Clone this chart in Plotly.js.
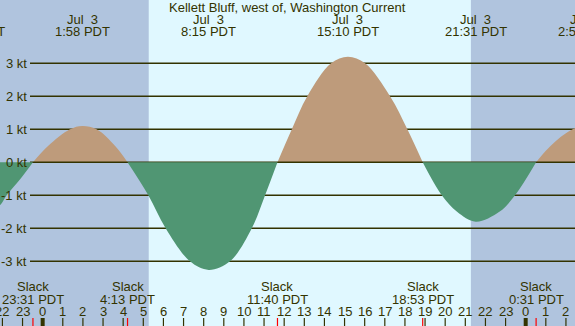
<!DOCTYPE html>
<html><head><meta charset="utf-8">
<script src="https://cdn.plot.ly/plotly-3.0.1.min.js"></script>
<style>html,body{margin:0;padding:0;background:#b0c4de;}#chart{width:575px;height:326px;}</style>
</head><body><div id="chart"></div>
<script>
// Hours relative to Jul 3 00:00 PDT
const times  = [-3.4, -2.8, -2.12, -1.79, -1.1, -0.483, 0.28, 1.36, 1.967, 2.68, 3.59, 4.217,
                5.25, 6.11, 7.32, 8.25, 9.31, 10.39, 11.05, 11.667,
                12.38, 13.15, 14.33, 15.167, 16.02, 17.26, 18.12, 18.883,
                19.83, 20.59, 21.517, 22.69, 23.47, 24.517,
                25.0, 25.5, 26.0, 26.45, 26.95];
const speeds = [-1.65, -1.55, -1.3, -1.0, -0.5, 0, 0.5, 1.0, 1.1, 1.0, 0.5, 0,
                -1, -2, -3, -3.26, -3, -2, -1, 0,
                1, 2, 3, 3.2, 3, 2, 1, 0,
                -1, -1.5, -1.8, -1.5, -1, 0,
                0.35, 0.65, 0.88, 1.03, 1.1];

const extremeTimes  = [-3.4, 1.967, 8.25, 15.167, 21.517, 26.95];
const extremeDates  = ['Jul  2', 'Jul  3', 'Jul  3', 'Jul  3', 'Jul  3', 'Jul  4'];
const extremeLabels = ['20:36 PDT', '1:58 PDT', '8:15 PDT', '15:10 PDT', '21:31 PDT', '2:57 PDT'];
const slackTimes  = [-0.483, 4.217, 11.667, 18.883, 24.517];
const slackLabels = ['23:31 PDT', '4:13 PDT', '11:40 PDT', '18:53 PDT', '0:31 PDT'];
const levels = [-3, -2, -1, 0, 1, 2, 3];
const levelLabels = ['-3 kt', '-2 kt', '-1 kt', '0 kt', '1 kt', '2 kt', '3 kt'];
const hourTicks = [];
for (let h = -2; h <= 26; h++) hourTicks.push(h);
const sunrise = 5.27, sunset = 21.28;
const title = 'Kellett Bluff, west of, Washington Current';

const W = 575, H = 326;
const xr = [-2.12, 26.45];
const yr = [-4.96, 4.92];
const ink = '#333300';
const FONT = 'Liberation Sans, Arial, sans-serif';
const xp = h => (h - xr[0]) / (xr[1] - xr[0]);   // hour -> paper fraction
const pyPx = px => 1 - px / H;                    // pixel row -> paper fraction

// split into lobes at slack (zero) points
const lobes = [];
let cur = {x: [], y: []};
for (let i = 0; i < times.length; i++) {
  cur.x.push(times[i]); cur.y.push(speeds[i]);
  if (speeds[i] === 0 && cur.x.length > 1) {
    lobes.push(cur);
    cur = {x: [times[i]], y: [0]};
  }
}
if (cur.x.length > 1) lobes.push(cur);
const lobeSign = l => l.y.reduce((a, b) => a + b, 0) > 0 ? 1 : -1;

const traces = [];
const mk = (l, color) => ({x: l.x, y: l.y, type: 'scatter', mode: 'lines', fill: 'tozeroy',
  fillcolor: color, line: {width: 0, shape: 'spline', smoothing: 1}, hoverinfo: 'skip', showlegend: false});
lobes.filter(l => lobeSign(l) > 0).forEach(l => traces.push(mk(l, '#be9b7b')));
// zero line drawn between flood and ebb fills
const gridStart = xr[0] + (30 / W) * (xr[1] - xr[0]);
traces.push({x: [gridStart, xr[1]], y: [0, 0], type: 'scatter', mode: 'lines',
  line: {color: ink, width: 1.5}, hoverinfo: 'skip', showlegend: false});
lobes.filter(l => lobeSign(l) < 0).forEach(l => traces.push(mk(l, '#509673')));

const shapes = [];
shapes.push({type: 'rect', layer: 'below', xref: 'x', yref: 'paper', x0: xr[0], x1: sunrise, y0: 0, y1: 1, fillcolor: '#b0c4de', line: {width: 0}});
shapes.push({type: 'rect', layer: 'below', xref: 'x', yref: 'paper', x0: sunrise, x1: sunset, y0: 0, y1: 1, fillcolor: '#e0f8ff', line: {width: 0}});
shapes.push({type: 'rect', layer: 'below', xref: 'x', yref: 'paper', x0: sunset, x1: xr[1], y0: 0, y1: 1, fillcolor: '#b0c4de', line: {width: 0}});
levels.forEach(v => {
  if (v === 0) return;
  shapes.push({type: 'line', layer: 'below', xref: 'paper', yref: 'y', x0: 30 / W, x1: 1, y0: v, y1: v, line: {color: ink, width: 1.5}});
});
hourTicks.forEach(h => {
  const mid = ((h % 24) + 24) % 24 === 0;
  shapes.push({type: 'line', xref: 'x', yref: 'paper', x0: h, x1: h, y0: 0, y1: 8 / H,
    line: {color: ink, width: mid ? 4 : 1.2}});
});
slackTimes.forEach(t => {
  shapes.push({type: 'line', xref: 'x', yref: 'paper', x0: t, x1: t, y0: 0, y1: 8 / H,
    line: {color: '#ff0000', width: 1.2}});
});

const ann = [];
const txt = (x, xref, y, text, xanchor) => ({x, xref, y: pyPx(y), yref: 'paper', text, showarrow: false,
  xanchor: xanchor || 'center', yanchor: 'middle', font: {family: FONT, size: 13, color: ink}});
ann.push(txt(0.5, 'paper', 7.5, title));
extremeTimes.forEach((t, i) => {
  ann.push(txt(xp(t), 'paper', 19.5, extremeDates[i]));
  ann.push(txt(xp(t), 'paper', 31.5, extremeLabels[i]));
});
slackTimes.forEach((t, i) => {
  ann.push(txt(xp(t), 'paper', 286.5, 'Slack'));
  ann.push(txt(xp(t), 'paper', 299, slackLabels[i]));
});
hourTicks.forEach(h => {
  ann.push(txt(xp(h), 'paper', 311.5, String(((h % 24) + 24) % 24)));
});
levels.forEach((v, i) => {
  const ypx = 162.3 - v * 33;
  ann.push(txt(29 / W, 'paper', ypx, levelLabels[i], 'right'));
});

const layout = {
  width: W, height: H,
  margin: {l: 0, r: 0, t: 0, b: 0},
  paper_bgcolor: '#b0c4de', plot_bgcolor: '#b0c4de',
  xaxis: {range: xr, visible: false, fixedrange: true},
  yaxis: {range: yr, visible: false, fixedrange: true},
  shapes: shapes, annotations: ann, showlegend: false
};
Plotly.newPlot('chart', traces, layout, {staticPlot: true, displayModeBar: false});
</script></body></html>
